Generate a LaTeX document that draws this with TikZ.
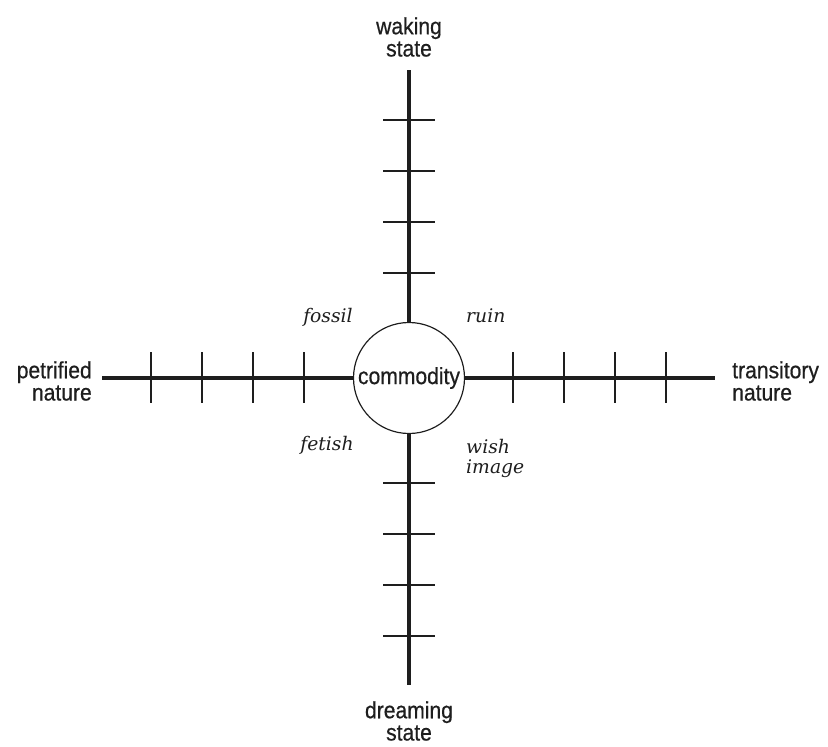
\documentclass[tikz,border=0pt]{standalone}
\usepackage{fontspec}
\setsansfont{Liberation Sans}[FakeStretch=0.9,FakeBold=0.6]
\newfontfamily\phasefont{DejaVu Serif}
\usetikzlibrary{positioning}
\definecolor{Ink}{HTML}{1E1E1E}
\tikzset{
  axisline/.style={line width=2.6pt,color=Ink},
  tickmark/.style={line width=2.5pt,color=Ink},
  core/.style={circle,draw=Ink,line width=1pt,fill=white,minimum size=3.33cm,inner sep=0pt,
    font=\sffamily\fontsize{20}{19}\selectfont,text=Ink},
  pole/.style={inner sep=0pt,font=\sffamily\fontsize{20}{19}\selectfont,text=Ink},
  phase/.style={inner sep=0pt,font=\phasefont\itshape\fontsize{16}{17}\selectfont,text=Ink}
}

\begin{document}
\begin{tikzpicture}[x=0.03cm,y=-0.03cm]
  \useasboundingbox (0,0) rectangle (828,747);
  \node[core] (commodity) at (409,378) {commodity};
  % ends of the two axes
  \coordinate (top) at (409,70);
  \coordinate (bottom) at (409,685);
  \coordinate (left) at (102,378);
  \coordinate (right) at (715,378);
  \draw[axisline] (top) -- (commodity.north);
  \draw[axisline] (commodity.south) -- (bottom);
  \draw[axisline] (left) -- (commodity.west);
  \draw[axisline] (commodity.east) -- (right);
  \foreach \y in {120,171,222,273,483,534,585,636}
    \draw[tickmark] (383,\y) -- (435,\y);
  \foreach \x in {151,202,253,304,513,564,615,666}
    \draw[tickmark] (\x,352) -- (\x,403);
  % poles
  \node[pole,align=center] (waking) at (409,37) {waking\\state};
  \node[pole,align=center] (dreaming) at (409,721) {dreaming\\state};
  \node[pole,align=right,anchor=east] (petrified) at (92,381) {petrified\\nature};
  \node[pole,align=left,anchor=west] (transitory) at (732,381) {transitory\\nature};
  % quadrants
  \node[phase,anchor=base] (fossil) at (328,322) {fossil};
  \node[phase,anchor=base west] (ruin) at (466,322) {ruin};
  \node[phase,anchor=base] (fetish) at (327,450) {fetish};
  \node[phase,align=left,anchor=west] (wish) at (466,458) {wish\\image};
\end{tikzpicture}
\end{document}
